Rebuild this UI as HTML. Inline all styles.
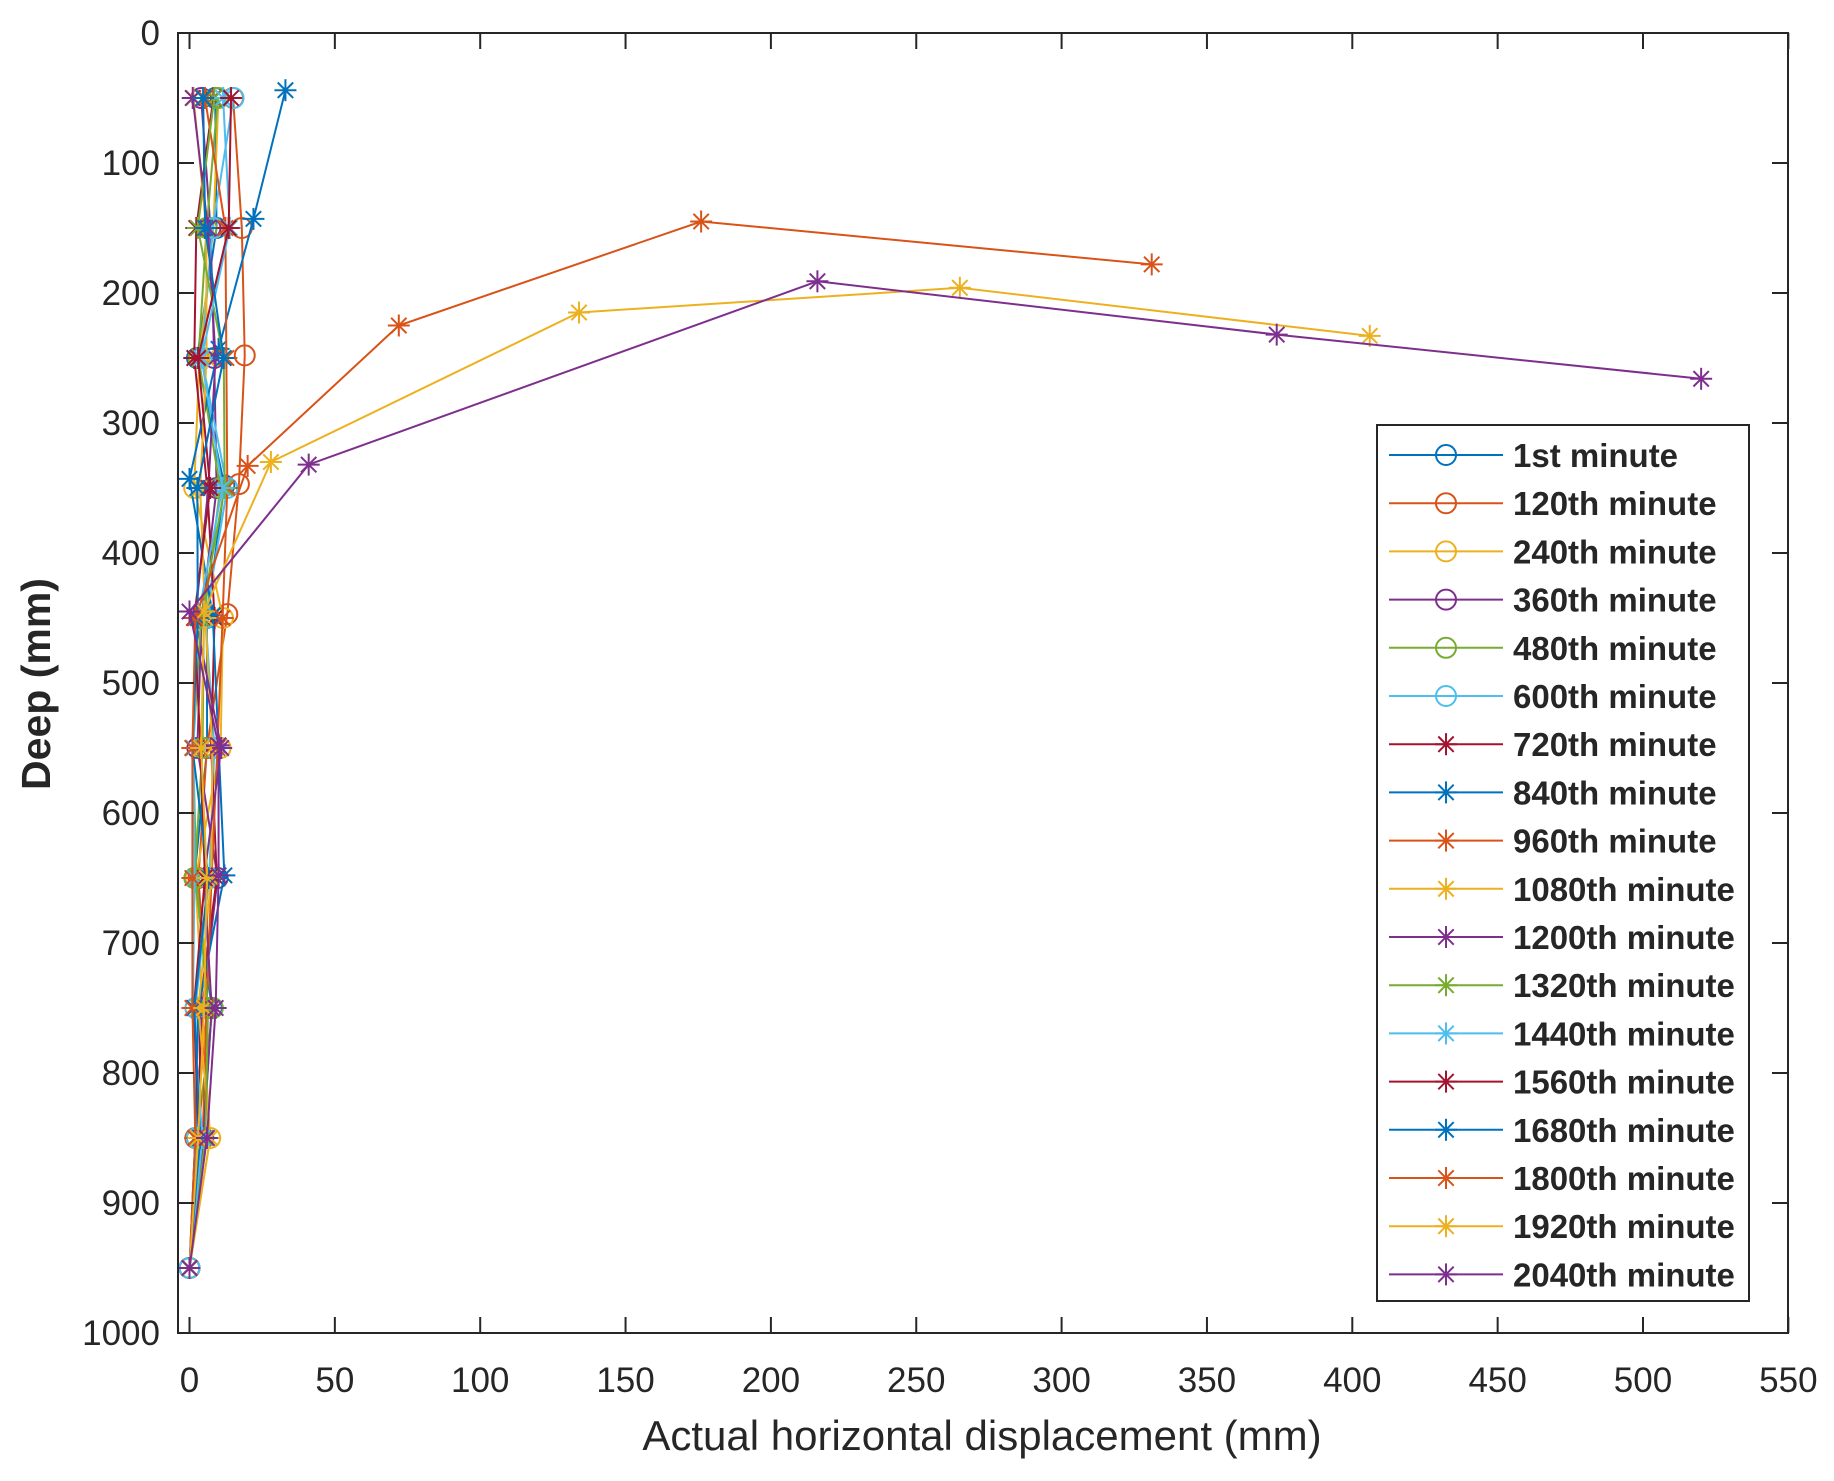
<!DOCTYPE html>
<html><head><meta charset="utf-8"><style>
body{margin:0;background:#fff}
svg text{font-family:"Liberation Sans",Arial,sans-serif;fill:#262626}
</style></head><body>
<svg id="s" width="1834" height="1476" xmlns="http://www.w3.org/2000/svg">
<rect width="1834" height="1476" fill="#fff"/>
<g id="data"></g>
<rect x="178" y="33" width="1610" height="1300" fill="none" stroke="#262626" stroke-width="2"/>
<g id="ticks"></g>
<text x="982" y="1450" font-size="42" text-anchor="middle">Actual horizontal displacement (mm)</text>
<text transform="translate(50,684) rotate(-90)" font-size="41" text-anchor="middle" font-weight="bold">Deep (mm)</text>
<g id="leg"></g>
</svg>
<script>
const NS="http://www.w3.org/2000/svg";
function el(t,a,p){const e=document.createElementNS(NS,t);for(const k in a)e.setAttribute(k,a[k]);(p||document.getElementById('data')).appendChild(e);return e;}
const X=v=>189.5+v*2.907, Y=v=>33+v*1.3;
const T=document.getElementById('ticks');
for(let v=0;v<=550;v+=50){const x=X(v);el('line',{x1:x,y1:1333,x2:x,y2:1317,stroke:'#262626','stroke-width':2},T);el('line',{x1:x,y1:33,x2:x,y2:49,stroke:'#262626','stroke-width':2},T);const t=el('text',{x:x,y:1392,'font-size':35,'text-anchor':'middle'},T);t.textContent=v;}
for(let v=0;v<=1000;v+=100){const y=Y(v);el('line',{x1:178,y1:y,x2:194,y2:y,stroke:'#262626','stroke-width':2},T);el('line',{x1:1788,y1:y,x2:1772,y2:y,stroke:'#262626','stroke-width':2},T);const t=el('text',{x:160,y:y+12,'font-size':35,'text-anchor':'end'},T);t.textContent=v;}
const C=['#0072BD','#D95319','#EDB120','#7E2F8E','#77AC30','#4DBEEE','#A2142F'];
const names=['1st','120th','240th','360th','480th','600th','720th','840th','960th','1080th','1200th','1320th','1440th','1560th','1680th','1800th','1920th','2040th'];
let seed=7;const r=()=>{seed=(seed*9301+49297)%233280;return seed/233280;};
function marker(g,x,y,star,c){
 if(!star){el('circle',{cx:x,cy:y,r:10,fill:'none',stroke:c,'stroke-width':2},g);}
 else{const s=11;[[s,0],[0,s],[s*0.7,s*0.7],[s*0.7,-s*0.7]].forEach(([a,b])=>el('line',{x1:x-a,y1:y-b,x2:x+a,y2:y+b,stroke:c,'stroke-width':2},g));}
}
const depths=[50,150,250,350,450,550,650,750,850,950];
const series=[];
for(let i=0;i<18;i++){
 const pts=depths.map((d,j)=>{const maxx=j<9?(16-j*1.2):1;return [j==9?0:Math.max(0,1+r()*maxx),d];});
 series.push(pts);
}
series[1][0]=[15,50];series[1][1]=[18,150];series[1][2]=[19,248];series[1][3]=[17,347];series[1][4]=[13,447];
series[0][3]=[12,348];series[5][3]=[13,350];
series[7]=[[33,44],[22,143],[10,243],[0,343],[8,448],[10,548],[12,648],[3,750],[2,850],[0,950]];
series[15]=[[331,178],[176,145],[72,225],[20,333],[2,450],[1,550],[1,650],[1,750],[2,850],[0,950]];
series[16]=[[406,233],[265,196],[134,215],[28,330],[5,445],[4,550],[6,650],[5,750],[3,850],[0,950]];
series[17]=[[520,266],[374,232],[216,191],[41,332],[0,445],[10,548],[10,648],[9,750],[6,850],[0,950]];
series.forEach((pts,i)=>{const c=C[i%7];const g=el('g',{});
 el('polyline',{points:pts.map(p=>X(p[0])+','+Y(p[1])).join(' '),fill:'none',stroke:c,'stroke-width':2},g);
 pts.forEach(p=>marker(g,X(p[0]),Y(p[1]),i>=6,c));});
const L=document.getElementById('leg');
el('rect',{x:1377,y:425,width:372,height:876,fill:'#fff',stroke:'#262626','stroke-width':2},L);
names.forEach((n,i)=>{const y=455+i*48.2,c=C[i%7];
 el('line',{x1:1389,y1:y,x2:1503,y2:y,stroke:c,'stroke-width':2},L);marker(L,1446,y,i>=6,c);
 const t=el('text',{x:1513,y:y+12,'font-size':33,'font-weight':'bold'},L);t.textContent=n+' minute';});
</script>
</body></html>
